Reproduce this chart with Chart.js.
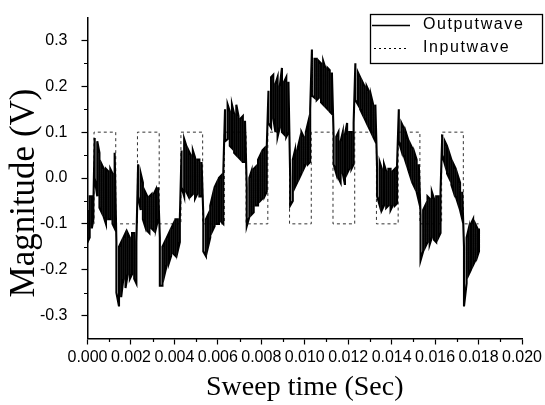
<!DOCTYPE html>
<html><head><meta charset="utf-8">
<script src="https://cdn.jsdelivr.net/npm/chart.js@4.4.1/dist/chart.umd.min.js"></script>
<style>html,body{margin:0;padding:0;background:#fff}canvas{display:block}</style>
</head><body>
<canvas id="c" width="545" height="405"></canvas>
<script>
// ---- Output wave: read envelope (upper / lower of the noisy band), time in ms ----
const outTimeMs = [
  0, 0.1, 0.2, 0.27,
  0.33, 0.45, 0.55, 0.65, 0.75, 0.85, 0.95, 1.05, 1.15, 1.25,
  1.33, 1.45, 1.55, 1.65, 1.75, 1.85, 1.95, 2.05, 2.15, 2.25,
  2.33, 2.45, 2.55, 2.65, 2.75, 2.85, 2.95, 3.05, 3.15, 3.25,
  3.33, 3.45, 3.55, 3.65, 3.75, 3.85, 3.95, 4.05, 4.15, 4.25,
  4.33, 4.45, 4.55, 4.65, 4.75, 4.85, 4.95, 5.05, 5.15, 5.25,
  5.33, 5.45, 5.55, 5.65, 5.75, 5.85, 5.95, 6.05, 6.15, 6.25,
  6.33, 6.45, 6.55, 6.65, 6.75, 6.85, 6.95, 7.05, 7.15, 7.25,
  7.33, 7.45, 7.55, 7.65, 7.75, 7.85, 7.95, 8.05, 8.15, 8.25,
  8.33, 8.45, 8.55, 8.65, 8.75, 8.85, 8.95, 9.05, 9.15, 9.25,
  9.33, 9.45, 9.55, 9.65, 9.75, 9.85, 9.95, 10.05, 10.15, 10.25,
  10.33, 10.45, 10.55, 10.65, 10.75, 10.85, 10.95, 11.05, 11.15, 11.25,
  11.33, 11.45, 11.55, 11.65, 11.75, 11.85, 11.95, 12.05, 12.15, 12.25,
  12.33, 12.45, 12.55, 12.65, 12.75, 12.85, 12.95, 13.05, 13.15, 13.25,
  13.33, 13.45, 13.55, 13.65, 13.75, 13.85, 13.95, 14.05, 14.15, 14.25,
  14.33, 14.45, 14.55, 14.65, 14.75, 14.85, 14.95, 15.05, 15.15, 15.25,
  15.33, 15.45, 15.55, 15.65, 15.75, 15.85, 15.95, 16.05, 16.15, 16.25,
  16.33, 16.45, 16.55, 16.65, 16.75, 16.85, 16.95, 17.05, 17.15, 17.25,
  17.33, 17.45, 17.55, 17.65, 17.75, 17.85, 17.95, 18.02
];
const outUpper = [
  -0.07, -0.04, -0.04, -0.06,
  0.087, 0.08, 0.055, 0.03, 0.02, 0.02, 0.015, 0.02, 0.01, 0.055,
  -0.14, -0.15, -0.14, -0.13, -0.12, -0.12, -0.13, -0.12, -0.12, -0.14,
  0.03, 0.01, -0.01, -0.03, -0.04, -0.04, -0.035, -0.035, -0.025, -0.02,
  -0.13, -0.15, -0.14, -0.13, -0.12, -0.11, -0.1, -0.09, -0.09, -0.09,
  0.06, 0.085, 0.07, 0.06, 0.05, 0.06, 0.045, 0.04, 0.04, 0.035,
  -0.08, -0.09, -0.08, -0.06, -0.04, -0.02, -0.01, 0.0, 0.005, 0.01,
  0.15, 0.16, 0.145, 0.16, 0.14, 0.16, 0.135, 0.13, 0.135, 0.125,
  -0.02, 0.0, 0.015, 0.02, 0.025, 0.04, 0.05, 0.06, 0.065, 0.065,
  0.19, 0.22, 0.225, 0.205, 0.22, 0.2, 0.24, 0.21, 0.22, 0.21,
  0.0, 0.04, 0.06, 0.06, 0.08, 0.1, 0.09, 0.1, 0.12, 0.15,
  0.28, 0.26, 0.26, 0.255, 0.25, 0.255, 0.24, 0.24, 0.235, 0.23,
  0.09, 0.09, 0.1, 0.08, 0.1, 0.095, 0.12, 0.1, 0.1, 0.12,
  0.25, 0.23, 0.22, 0.21, 0.2, 0.2, 0.19, 0.18, 0.16, 0.16,
  0.02, 0.035, 0.02, 0.03, 0.015, 0.02, 0.02, 0.015, 0.02, 0.03,
  0.15, 0.12, 0.11, 0.1, 0.085, 0.075, 0.065, 0.055, 0.04, 0.03,
  -0.08, -0.07, -0.06, -0.04, -0.045, -0.03, -0.045, -0.04, -0.04, -0.03,
  0.095, 0.08, 0.07, 0.055, 0.04, 0.03, 0.02, 0.005, -0.01, -0.03,
  -0.15, -0.13, -0.11, -0.1, -0.09, -0.1, -0.11, -0.11
];
const outLower = [
  -0.14, -0.13, -0.11, -0.09,
  0.0, -0.04, -0.065, -0.075, -0.085, -0.1, -0.09, -0.09, -0.1, -0.11,
  -0.25, -0.28, -0.26, -0.22, -0.24, -0.21, -0.22, -0.21, -0.22, -0.23,
  -0.04, -0.07, -0.09, -0.105, -0.115, -0.12, -0.11, -0.115, -0.11, -0.09,
  -0.235, -0.235, -0.21, -0.19, -0.185, -0.17, -0.165, -0.17, -0.16, -0.14,
  -0.02, -0.04, -0.03, -0.04, -0.04, -0.035, -0.045, -0.035, -0.04, -0.04,
  -0.16, -0.17, -0.15, -0.13, -0.115, -0.105, -0.1, -0.1, -0.095, -0.1,
  0.08, 0.085, 0.07, 0.065, 0.055, 0.05, 0.045, 0.04, 0.035, 0.035,
  -0.105, -0.085, -0.08, -0.075, -0.06, -0.06, -0.05, -0.045, -0.04, -0.03,
  0.12, 0.11, 0.13, 0.1, 0.09, 0.11, 0.1, 0.095, 0.09, 0.1,
  -0.06, -0.05, -0.02, -0.01, 0.0, 0.01, 0.02, 0.03, 0.03, 0.035,
  0.18, 0.175, 0.17, 0.175, 0.165, 0.16, 0.155, 0.15, 0.145, 0.14,
  0.03, 0.01, 0.0, -0.01, 0.01, -0.015, 0.01, 0.02, 0.02, 0.03,
  0.17, 0.16, 0.15, 0.14, 0.13, 0.12, 0.11, 0.1, 0.09, 0.08,
  -0.04, -0.06, -0.07, -0.06, -0.065, -0.06, -0.07, -0.06, -0.06, -0.055,
  0.08, 0.06, 0.05, 0.035, 0.02, 0.005, -0.01, -0.02, -0.03, -0.05,
  -0.18, -0.16, -0.15, -0.14, -0.145, -0.13, -0.135, -0.14, -0.13, -0.12,
  0.05, 0.03, 0.01, 0.0, -0.015, -0.03, -0.04, -0.055, -0.07, -0.09,
  -0.28, -0.23, -0.21, -0.2, -0.19, -0.18, -0.17, -0.16
];
// ---- Input wave: square wave edges (ms) and level after each edge ----
const inTimeMs = [0, 0.3, 1.3, 2.3, 3.3, 4.3, 5.3, 6.3, 7.3, 8.3, 9.3, 10.3, 11.3, 12.3, 13.3, 14.3, 15.3, 16.3, 17.3, 18.0];
const inValue  = [-0.1, 0.1, -0.1, 0.1, -0.1, 0.1, -0.1, 0.1, -0.1, 0.1, -0.1, 0.1, -0.1, 0.1, -0.1, 0.1, -0.1, 0.1, -0.1, -0.1];
// ---- Axis ticks ----
const xTickValues = [0, 0.002, 0.004, 0.006, 0.008, 0.010, 0.012, 0.014, 0.016, 0.018, 0.020];
const xMinorValues = [0.001, 0.003, 0.005, 0.007, 0.009, 0.011, 0.013, 0.015, 0.017, 0.019];
const yTickValues = [-0.3, -0.2, -0.1, 0.0, 0.1, 0.2, 0.3];
const yMinorValues = [-0.25, -0.15, -0.05, 0.05, 0.15, 0.25];
const seriesLabels = ['Outputwave', 'Inputwave'];
const axisTitles = { x: 'Sweep time (Sec)', y: 'Magnitude (V)' };

// build point table: vertical strokes between the read envelopes
const outPoints = [];
outTimeMs.forEach((t, i) => {
  const a = {x: t / 1000, y: outUpper[i]}, b = {x: t / 1000, y: outLower[i]};
  if (i % 2 === 0) { outPoints.push(a, b); } else { outPoints.push(b, a); }
});
const inPoints = inTimeMs.map((t, i) => ({x: t / 1000, y: inValue[i]}));

const SANS = "'Liberation Sans', Arial, Helvetica, sans-serif";
const SERIF = "'Liberation Serif', 'Times New Roman', serif";

const extras = {
  id: 'extras',
  afterDraw(chart) {
    const ctx = chart.ctx, xs = chart.scales.x, ys = chart.scales.y;
    ctx.save();
    // minor ticks
    ctx.strokeStyle = '#000';
    ctx.lineWidth = 1.2;
    ctx.beginPath();
    xMinorValues.forEach(v => { const p = Math.round(xs.getPixelForValue(v)) + 0.5; ctx.moveTo(p, xs.top); ctx.lineTo(p, xs.top + 3.5); });
    yMinorValues.forEach(v => { const p = Math.round(ys.getPixelForValue(v)) + 0.5; ctx.moveTo(ys.right, p); ctx.lineTo(ys.right - 3.5, p); });
    ctx.stroke();
    // y title
    ctx.save();
    ctx.translate(25, 193);
    ctx.rotate(-Math.PI / 2);
    ctx.fillStyle = '#000';
    ctx.font = '35px ' + SERIF;
    ctx.textAlign = 'center';
    ctx.textBaseline = 'middle';
    ctx.fillText(axisTitles.y, 0, 0);
    ctx.restore();
    // legend box
    ctx.strokeStyle = '#000';
    ctx.lineWidth = 1.3;
    ctx.strokeRect(370.5, 14.5, 172, 49);
    ctx.beginPath(); ctx.lineWidth = 1.5; ctx.setLineDash([]);
    ctx.moveTo(372, 25.5); ctx.lineTo(410, 25.5); ctx.stroke();
    ctx.beginPath(); ctx.lineWidth = 1; ctx.setLineDash([2, 3]);
    ctx.moveTo(374, 48.5); ctx.lineTo(408, 48.5); ctx.stroke();
    ctx.setLineDash([]);
    ctx.fillStyle = '#000';
    ctx.font = '16px ' + SANS;
    ctx.textBaseline = 'middle';
    try { ctx.letterSpacing = '1.6px'; } catch (e) {}
    ctx.fillText(chart.data.datasets[0].label, 423, 25);
    ctx.fillText(chart.data.datasets[1].label, 423, 48);
    ctx.restore();
  }
};

new Chart(document.getElementById('c'), {
  type: 'line',
  data: {
    datasets: [
      { label: seriesLabels[0], data: outPoints, borderColor: '#000', borderWidth: 2.1, pointRadius: 0, tension: 0, fill: false, borderJoinStyle: 'miter' },
      { label: seriesLabels[1], data: inPoints, borderColor: '#333', borderWidth: 1, borderDash: [3, 3], pointRadius: 0, stepped: true, fill: false }
    ]
  },
  options: {
    responsive: false,
    animation: false,
    events: [],
    layout: { padding: { top: 17.5, right: 23, left: 0, bottom: 0 } },
    plugins: { legend: { display: false }, tooltip: { enabled: false } },
    scales: {
      x: {
        type: 'linear', min: 0, max: 0.02,
        afterBuildTicks: s => { s.ticks = xTickValues.map(v => ({value: v})); },
        afterFit: s => { s.height = 66.5; s.paddingLeft = 0; s.paddingRight = 0; },
        ticks: { callback: v => Number(v).toFixed(3), font: { family: SANS, size: 16 }, color: '#000', padding: 3, maxRotation: 0, autoSkip: false },
        grid: { display: true, drawOnChartArea: false, drawTicks: true, tickLength: 6, tickColor: '#000', tickWidth: 1.2 },
        border: { display: true, color: '#000', width: 1.5 },
        title: { display: true, text: axisTitles.x, font: { family: SERIF, size: 28 }, color: '#000', padding: { top: 0, bottom: 1 } }
      },
      y: {
        type: 'linear', min: -0.35, max: 0.35,
        afterBuildTicks: s => { s.ticks = yTickValues.map(v => ({value: v})); },
        afterFit: s => { s.width = 87.5; s.paddingTop = 0; s.paddingBottom = 0; },
        ticks: { callback: v => Number(v).toFixed(1), font: { family: SANS, size: 16 }, color: '#000', padding: 14, autoSkip: false },
        grid: { display: true, drawOnChartArea: false, drawTicks: true, tickLength: 6, tickColor: '#000', tickWidth: 1.2 },
        border: { display: true, color: '#000', width: 1.5 },
        title: { display: false }
      }
    }
  },
  plugins: [extras]
});
</script>
</body></html>
